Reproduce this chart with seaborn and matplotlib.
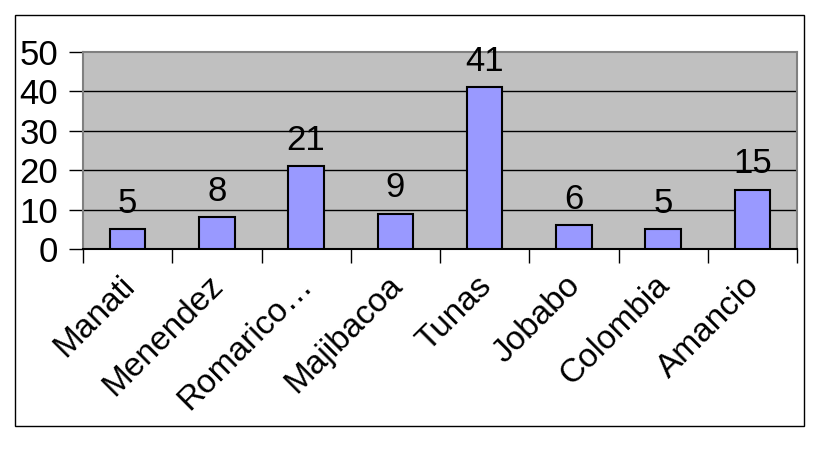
import seaborn as sns
import matplotlib.pyplot as plt
import matplotlib.transforms as mtransforms
from matplotlib.patches import Rectangle

municipios = ['Manati', 'Menendez', 'Romarico…', 'Majibacoa', 'Tunas', 'Jobabo', 'Colombia', 'Amancio']
casos = [5, 8, 21, 9, 41, 6, 5, 15]
yticks = [0, 10, 20, 30, 40, 50]

sns.set_style('white')
plt.rcParams['font.family'] = ['Liberation Sans', 'DejaVu Sans']
plt.rcParams['text.color'] = 'black'
plt.rcParams['xtick.color'] = 'black'
plt.rcParams['ytick.color'] = 'black'

fig = plt.figure(figsize=(8.25, 4.58), dpi=100)
ax = fig.add_axes([83/825, 1 - 249/458, (797-83)/825, (249-52)/458])
ax.set_facecolor('#C0C0C0')

sns.barplot(x=municipios, y=casos, color='#9999FF', saturation=1, width=0.4,
            edgecolor='black', linewidth=1.5, ax=ax, zorder=3)

ax.set_ylim(0, 50)
ax.set_xlim(-0.5, len(municipios) - 0.5)
ax.set_yticks(yticks)
ax.set_yticklabels([str(t) for t in yticks], fontsize=25)
for t in yticks[1:-1]:
    ax.axhline(t, color='black', linewidth=1, zorder=1)

# etiquetas de valores sobre las barras
for i, v in enumerate(casos):
    ax.annotate(str(v), (i, v), xytext=(0, 7), textcoords='offset points',
                ha='center', va='bottom', fontsize=25, zorder=4)

# ticks del eje x entre categorias
ax.set_xticks(range(len(municipios)))
ax.set_xticklabels(municipios, rotation=45, ha='right', rotation_mode='anchor', fontsize=24)
ax.set_xticks([i - 0.5 for i in range(len(municipios) + 1)], minor=True)
ax.tick_params(axis='x', which='major', length=0, pad=15)
ax.tick_params(axis='x', which='minor', length=10, width=1, color='black', direction='out', bottom=True)
ax.tick_params(axis='y', length=10, width=1, color='black', direction='out', left=True, pad=8)
shift = mtransforms.ScaledTranslation(-0.09, 0, fig.dpi_scale_trans)
for lbl in ax.get_xticklabels():
    lbl.set_transform(lbl.get_transform() + shift)

for side in ['top', 'right', 'left']:
    ax.spines[side].set_color('#808080')
    ax.spines[side].set_linewidth(1.5)
ax.spines['bottom'].set_color('black')
ax.spines['bottom'].set_linewidth(1.5)
ax.set_xlabel('')
ax.set_ylabel('')

fig.patches.append(Rectangle((15/825, 1 - 426/458), (804-15)/825, (426-15)/458,
                             transform=fig.transFigure, fill=False, edgecolor='black', linewidth=1))

fig.savefig('out.png', dpi=100)
